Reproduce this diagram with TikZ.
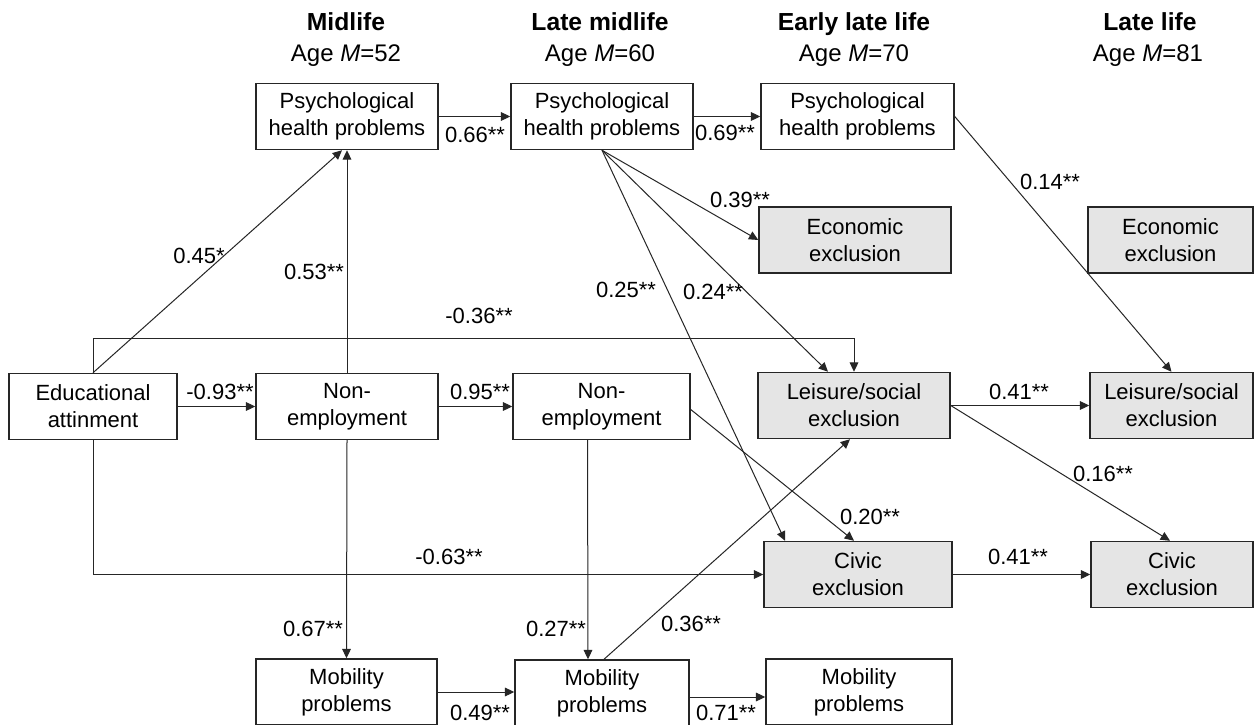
\documentclass[tikz,border=0pt]{standalone}
\usepackage{fontspec}
\setmainfont{Liberation Sans}
\usetikzlibrary{arrows.meta,calc}
\begin{document}
\begin{tikzpicture}[x=0.75pt,y=-0.75pt,
  box/.style={draw=black!85,line width=1.1pt,minimum height=49.5pt,inner sep=0pt,align=center,font=\fontsize{16.5}{20.25}\selectfont},
  gbox/.style={box,fill=black!10},
  lbl/.style={inner sep=0pt,font=\fontsize{16.5}{20}\selectfont},
  hd/.style={inner sep=0pt,font=\fontsize{18.5}{20}\selectfont\bfseries,anchor=base},
  ag/.style={inner sep=0pt,font=\fontsize{18}{20}\selectfont,anchor=base},
  arr/.style={draw=black!85,line width=0.75pt,-{Triangle[length=7pt,width=6.5pt]}}]
\useasboundingbox[fill=white] (0,0) rectangle (1255,724);

% headers
\node[hd] (h1) at (346,31) {Midlife};
\node[ag] (a1) at (346,62) {Age \textit{M}=52};
\node[hd] (h2) at (600,31) {Late midlife};
\node[ag] (a2) at (600,62) {Age \textit{M}=60};
\node[hd] (h3) at (854,31) {Early late life};
\node[ag] (a3) at (854,62) {Age \textit{M}=70};
\node[hd] (h4) at (1150,31) {Late life};
\node[ag] (a4) at (1148,62) {Age \textit{M}=81};

% boxes
\node[box,minimum width=136.5pt] (psyA) at (347,116.5) {Psychological\\health problems};
\node[box,minimum width=136.5pt] (psyB) at (602,116.5) {Psychological\\health problems};
\node[box,minimum width=144.75pt] (psyC) at (857.5,116.5) {Psychological\\health problems};
\node[gbox,minimum width=144pt] (ecoA) at (855,240) {Economic\\exclusion};
\node[gbox,minimum width=123.75pt] (ecoB) at (1170.5,240) {Economic\\exclusion};
\node[box,minimum width=126pt] (edu) at (93,406.5) {Educational\\attinment};
\node[box,minimum width=136.5pt] (nonA) at (347,406.5) {Non-\\employment};
\node[box,minimum width=132.75pt] (nonB) at (601.5,406.5) {Non-\\employment};
\node[gbox,minimum width=144pt] (leiA) at (854,405.5) {Leisure/social\\exclusion};
\node[gbox,minimum width=122.25pt] (leiB) at (1171.5,405.5) {Leisure/social\\exclusion};
\node[gbox,minimum width=141pt] (civA) at (858,574.5) {Civic\\exclusion};
\node[gbox,minimum width=121.5pt] (civB) at (1172,574.5) {Civic\\exclusion};
\node[box,minimum width=135.75pt] (mobA) at (346.5,692) {Mobility\\problems};
\node[box,minimum width=130.5pt] (mobB) at (602,693) {Mobility\\problems};
\node[box,minimum width=139.5pt] (mobC) at (859,692) {Mobility\\problems};

% connectors
\draw[arr] (psyA.east) -- (psyB.west);
\draw[arr] (psyB.east) -- (psyC.west);
\draw[arr] (psyB.south) -- (ecoA.west);
\draw[arr] (psyB.south) -- ($(leiA.north)+(-26,0)$);
\draw[arr] (psyB.south) -- ($(civA.north)+(-73,0)$);
\draw[arr] (psyC.east) -- (leiB.north);
\draw[arr] (edu.north) -- ($(psyA.south)+(-5,0)$);
\draw[arr] (nonA.north) -- (psyA.south);
\draw[arr] (edu.north) -- ++(0,-34) -| (leiA.north);
\draw[arr] (edu.east) -- (nonA.west);
\draw[arr] (nonA.east) -- (nonB.west);
\draw[arr] (edu.south) |- (civA.west);
\draw[arr] (nonA.south) -- (mobA.north);
\draw[arr] ($(nonB.south)+(-14,0)$) -- ($(mobB.north)+(-14,0)$);
\draw[arr] ($(nonB.east)+(0,3)$) -- ($(civA.north)+(-4,0)$);
\draw[arr] ($(mobB.north)+(2,0)$) -- ($(leiA.south)+(-4,0)$);
\draw[arr] (leiA.east) -- (leiB.west);
\draw[arr] (leiA.east) -- ($(civB.north)+(-2,0)$);
\draw[arr] (civA.east) -- (civB.west);
\draw[arr] (mobA.east) -- (mobB.west |- mobA.east);
\draw[arr] ($(mobB.east)+(0,4)$) -- ($(mobC.west)+(0,5)$);

% labels
\node[lbl] (l1) at (475,135) {0.66**};
\node[lbl] (l2) at (725,133) {0.69**};
\node[lbl] (l3) at (740,200) {0.39**};
\node[lbl] (l4) at (626,290) {0.25**};
\node[lbl] (l5) at (713,292) {0.24**};
\node[lbl] (l6) at (1050,182) {0.14**};
\node[lbl] (l7) at (199,256) {0.45*};
\node[lbl] (l8) at (314,272) {0.53**};
\node[lbl] (l9) at (479,316) {-0.36**};
\node[lbl] (l10) at (220,392) {-0.93**};
\node[lbl] (l11) at (480,392) {0.95**};
\node[lbl] (l12) at (449,557) {-0.63**};
\node[lbl] (l13) at (1019,392) {0.41**};
\node[lbl] (l14) at (1103,474) {0.16**};
\node[lbl] (l15) at (870,517) {0.20**};
\node[lbl] (l16) at (1018,557) {0.41**};
\node[lbl] (l17) at (313,629) {0.67**};
\node[lbl] (l18) at (556,629) {0.27**};
\node[lbl] (l19) at (691,624) {0.36**};
\node[lbl] (l20) at (480,713) {0.49**};
\node[lbl] (l21) at (726,713) {0.71**};
\end{tikzpicture}
\end{document}
